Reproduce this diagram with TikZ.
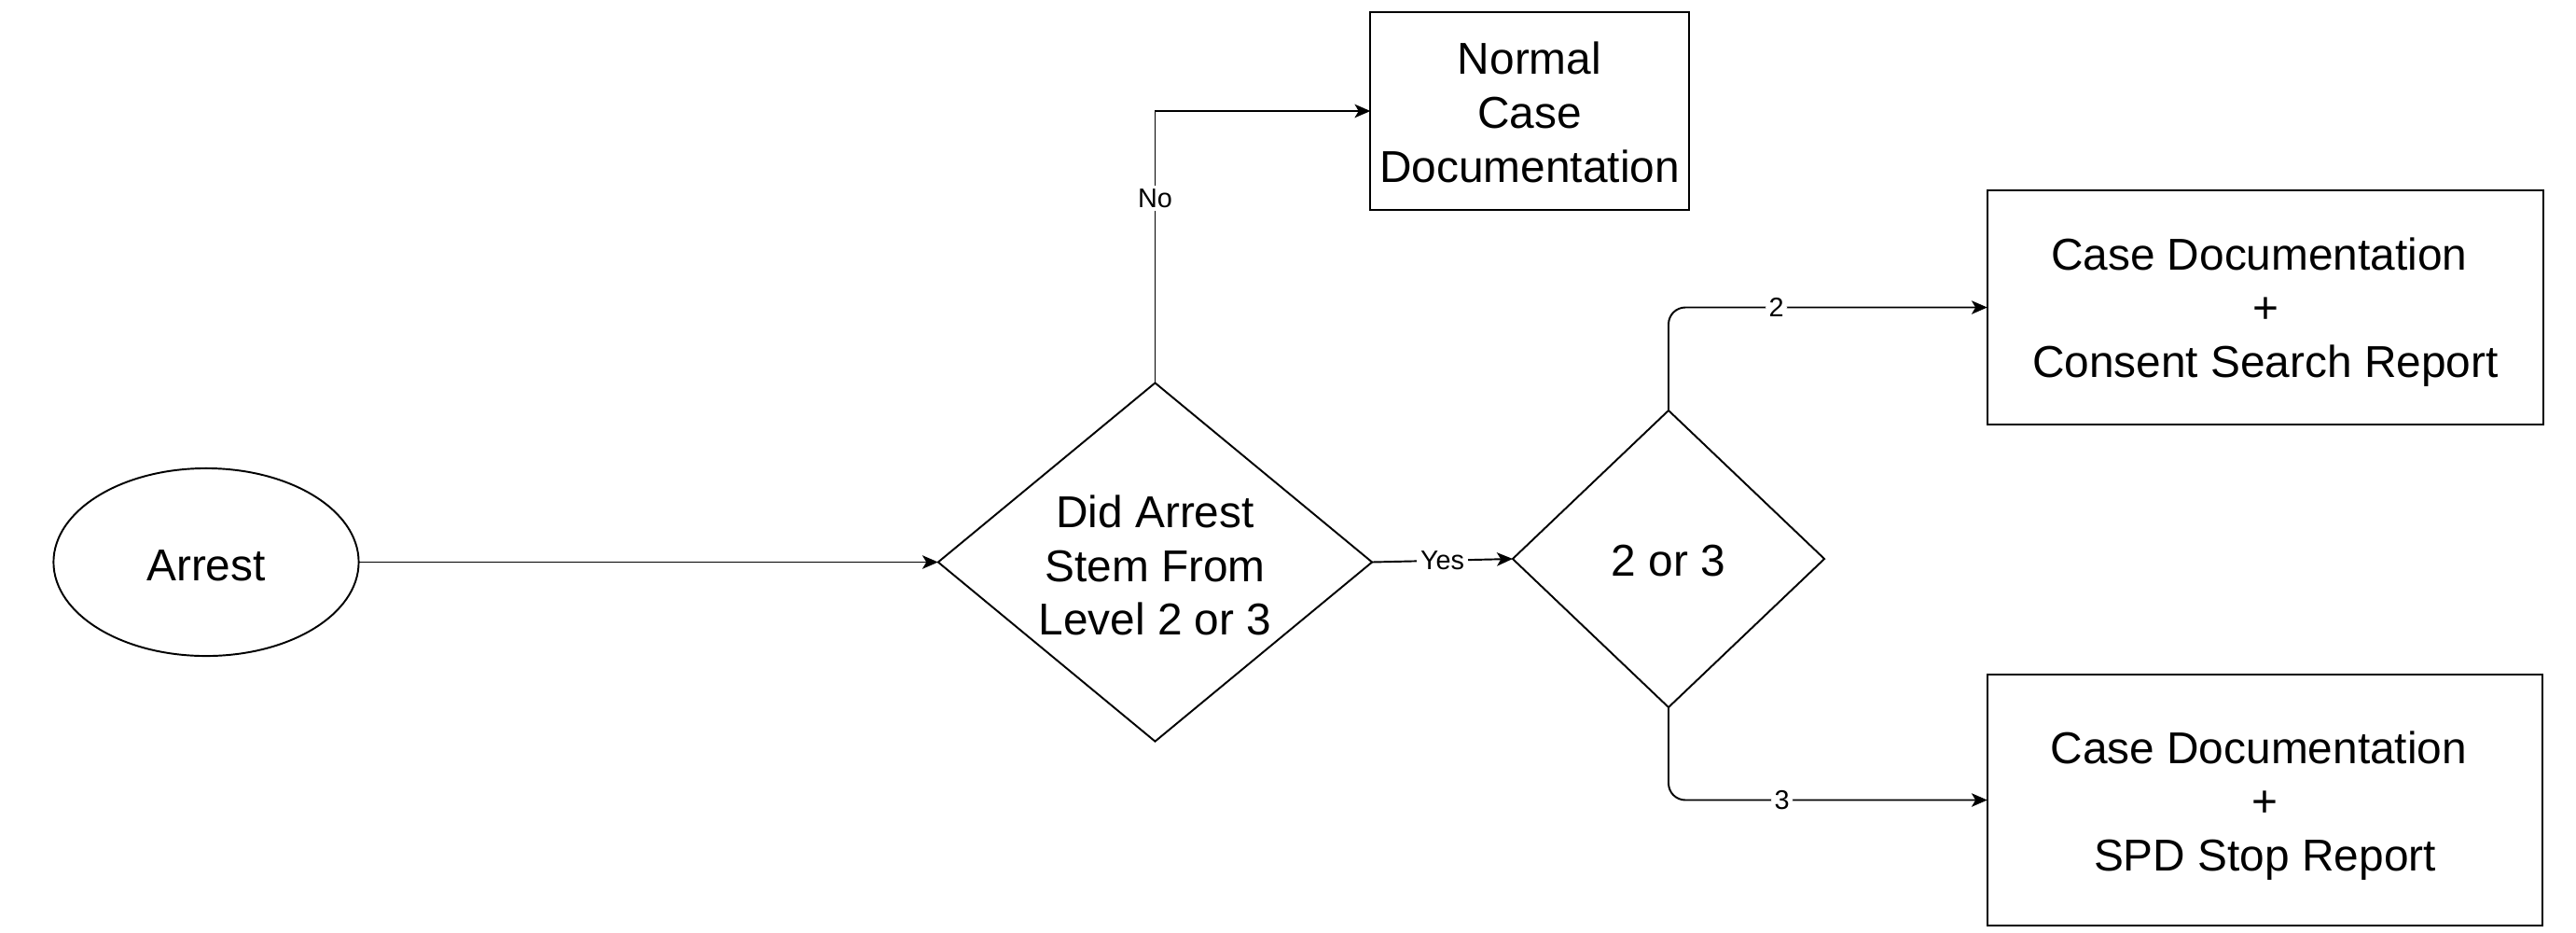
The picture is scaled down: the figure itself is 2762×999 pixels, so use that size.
\documentclass[tikz,border=0pt]{standalone}
\usepackage{fontspec}
\setmainfont{Liberation Sans}
\usetikzlibrary{shapes.geometric,arrows.meta}
\begin{document}
\begin{tikzpicture}[x=0.01cm,y=-0.01cm,
  every node/.style={inner sep=0pt, outer sep=0pt},
  shapeline/.style={draw=black, line width=0.55pt},
  bigtext/.style={font=\fontsize{13.6pt}{16.4pt}\selectfont, align=center},
  boxnode/.style={shapeline, rectangle},
  decnode/.style={shapeline, diamond},
  conn/.style={draw=black, line width=0.55pt, -{Stealth[length=4.8pt,width=4.1pt,inset=1.2pt]}},
  elabel/.style={fill=white, inner sep=1pt, font=\fontsize{8.2pt}{9.8pt}\selectfont}
]
\useasboundingbox (0,0) rectangle (2762,999);

\node[shapeline, ellipse, minimum width=3.27cm, minimum height=2.01cm] (arrest) at (221,602.5) {};
\node[bigtext] (arrestt) at ([yshift=-0.035cm]arrest.center) {Arrest};

\node[decnode, minimum width=4.65cm, minimum height=3.84cm] (q1) at (1238.5,602.5) {};
\node[bigtext] (q1t) at ([yshift=-0.035cm]q1.center) {Did Arrest\\Stem From\\Level 2 or 3};

\node[decnode, minimum width=3.34cm, minimum height=3.18cm] (q2) at (1789,599) {};
\node[bigtext] (q2t) at ([yshift=-0.025cm]q2.center) {2 or 3};

\node[boxnode, minimum width=3.41cm, minimum height=2.11cm] (normal) at (1640,119) {};
\node[bigtext] (normalt) at ([yshift=-0.015cm]normal.center) {Normal\\Case\\Documentation};

\node[boxnode, minimum width=5.96cm, minimum height=2.51cm] (consent) at (2429,329.5) {};
\node[bigtext] (consentt) at ([yshift=-0.05cm]consent.center) {Case Documentation\hphantom{\ }\\+\\Consent Search Report};

\node[boxnode, minimum width=5.95cm, minimum height=2.69cm] (spd) at (2428.5,857.5) {};
\node[bigtext] (spdt) at ([yshift=-0.06cm]spd.center) {Case Documentation\hphantom{\ }\\+\\SPD Stop Report};

\draw[conn] (arrest.east) -- (q1.west);
\draw[conn] (q1.north) |- node[elabel, pos=0.34] (lno) {No} (normal.west);
\draw[conn] (q1.east) -- node[elabel, pos=0.5] (lyes) {Yes} (q2.west);
\draw[conn, rounded corners=0.18cm] (q2.north) |- node[elabel, pos=0.669] (l2) {2} (consent.west);
\draw[conn, rounded corners=0.18cm] (q2.south) |- node[elabel, pos=0.678] (l3) {3} (spd.west);
\end{tikzpicture}
\end{document}
